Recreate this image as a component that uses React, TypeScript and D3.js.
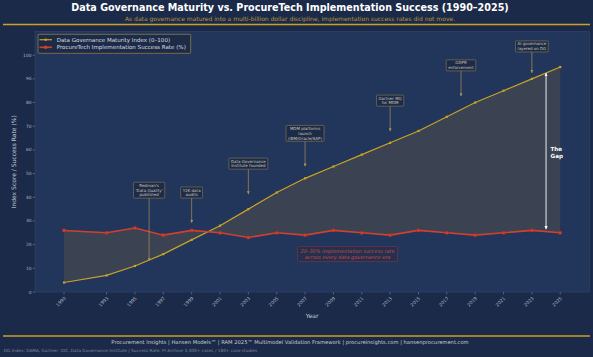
import React from 'react';
import * as d3 from 'd3';

const W = 593;
const H = 357;

const years = [1990, 1993, 1995, 1997, 1999, 2001, 2003, 2005, 2007, 2009, 2011, 2013, 2015, 2017, 2019, 2021, 2023, 2025];
const dgIndex = [4, 7, 11, 16, 22, 28, 35, 42, 48, 53, 58, 63, 68, 74, 80, 85, 90, 95];
const successRate = [26, 25, 27, 24, 26, 25, 23, 25, 24, 26, 25, 24, 26, 25, 24, 25, 26, 25];
const yTicks = [0, 10, 20, 30, 40, 50, 60, 70, 80, 90, 100];

const annoLabels = [
  ["Redman's", "'Data Quality'", 'published'],
  ['Y2K data', 'audits'],
  ['Data Governance', 'Institute founded'],
  ['MDM platforms', 'launch', '(IBM/Oracle/SAP)'],
  ['Gartner MQ', 'for MDM'],
  ['GDPR', 'enforcement'],
  ['AI governance', 'layered on DG'],
];
const annoYears = [1996, 1999, 2003, 2007, 2013, 2018, 2023];
const annoTextValues = [43, 42, 54.2, 67, 80.8, 95.7, 103.7];
const annoTargetValues = [13.2, 29.2, 41.3, 53, 67.9, 82.7, 92.5];

const gapYear = 2024;
const gapTop = 92.5;
const gapBottom = 26.5;

const title = 'Data Governance Maturity vs. ProcureTech Implementation Success  (1990\u20132025)';
const subtitle = 'As data governance matured into a multi-billion dollar discipline, implementation success rates did not move.';
const footer1 = 'Procurement Insights  |  Hansen Models\u2122  |  RAM 2025\u2122 Multimodel Validation Framework  |  procureinsights.com  |  hansenprocurement.com';
const footer2 = 'DG Index: DAMA, Gartner, IDC, Data Governance Institute  |  Success Rate: PI Archive 3,300+ cases / 180+ case studies';
const legendLabels = ['Data Governance Maturity Index (0\u2013100)', 'ProcureTech Implementation Success Rate (%)'];
const callout = ['20\u201330% implementation success rate', 'across every data governance era'];

const FONT = '"DejaVu Sans", "Liberation Sans", sans-serif';
const GOLD = '#c9a227';
const RED = '#d1402f';

let ctx: CanvasRenderingContext2D | null = null;
function measure(t: string, font: string): number {
  if (!ctx) ctx = document.createElement('canvas').getContext('2d');
  if (!ctx) return t.length * 2;
  ctx.font = font;
  return ctx.measureText(t).width;
}

export default function App() {
  const left = 35, right = 589.3, top = 31.5, bottom = 292;
  const x = d3.scaleLinear().domain([1987.95, 2027.05]).range([left, right]);
  const y = d3.scaleLinear().domain([0, 110]).range([bottom, top]);

  const data = years.map((yr, i) => ({ yr, dg: dgIndex[i], sr: successRate[i] }));
  const area = d3.area<any>().x(d => x(d.yr)).y0(d => y(d.sr)).y1(d => y(d.dg));
  const lineDg = d3.line<any>().x(d => x(d.yr)).y(d => y(d.dg));
  const lineSr = d3.line<any>().x(d => x(d.yr)).y(d => y(d.sr));

  const annoFs = 4;
  const annoLh = 4.8;

  return (
    <svg width={W} height={H} style={{ position: 'absolute', left: 0, top: 0, display: 'block', fontFamily: FONT }}>
      <defs>
        <marker id="ahGold" viewBox="0 0 10 10" refX="10" refY="5" markerWidth="3" markerHeight="3" markerUnits="userSpaceOnUse" orient="auto">
          <path d="M0,0 L10,5 L0,10 z" fill="#a8905a" />
        </marker>
        <marker id="ahWhite" viewBox="0 0 10 10" refX="10" refY="5" markerWidth="3.5" markerHeight="3.5" markerUnits="userSpaceOnUse" orient="auto-start-reverse">
          <path d="M0,0 L10,5 L0,10 z" fill="#ffffff" />
        </marker>
      </defs>
      <rect x={0} y={0} width={W} height={H} fill="#1b2a48" />

      {/* title */}
      <text x={290} y={11} textAnchor="middle" fontSize={9.6} fontWeight="bold" fill="#ffffff">{title}</text>
      <text x={290} y={21} textAnchor="middle" fontSize={6} fill="#b8953e">{subtitle}</text>
      <line x1={3} x2={590} y1={24.5} y2={24.5} stroke={GOLD} strokeWidth={1.3} />

      {/* plot area */}
      <rect x={left} y={top} width={right - left} height={bottom - top} fill="#22355a" stroke="#34476b" strokeWidth={0.6} />

      <path d={area(data) || ''} fill="#3b4352" />

      {/* y axis */}
      {yTicks.map(t => (
        <g key={'yt' + t}>
          <line x1={left - 2.5} x2={left} y1={y(t)} y2={y(t)} stroke="#8a93a6" strokeWidth={0.5} />
          <text x={left - 3.5} y={y(t)} dy="0.35em" textAnchor="end" fontSize={4.4} fill="#aab2c2">{t}</text>
        </g>
      ))}
      <text transform={`translate(15.5, ${(top + bottom) / 2}) rotate(-90)`} textAnchor="middle" fontSize={6} fill="#c3cad8">Index Score / Success Rate (%)</text>

      {/* x axis */}
      {years.map(yr => (
        <g key={'xt' + yr}>
          <line x1={x(yr)} x2={x(yr)} y1={bottom} y2={bottom + 2.5} stroke="#8a93a6" strokeWidth={0.5} />
          <text transform={`translate(${x(yr) + 1}, ${bottom + 5.5}) rotate(-45)`} dy="0.35em" textAnchor="end" fontSize={4.6} fill="#aab2c2">{yr}</text>
        </g>
      ))}
      <text x={(left + right) / 2} y={318} textAnchor="middle" fontSize={6} fill="#c3cad8">Year</text>

      {/* lines */}
      <path d={lineDg(data) || ''} fill="none" stroke={GOLD} strokeWidth={1.2} />
      {data.map(d => (
        <rect key={'dm' + d.yr} x={x(d.yr) - 1.1} y={y(d.dg) - 1.1} width={2.2} height={2.2} fill={GOLD} />
      ))}
      <path d={lineSr(data) || ''} fill="none" stroke={RED} strokeWidth={1.6} />
      {data.map(d => (
        <rect key={'sm' + d.yr} x={x(d.yr) - 1.5} y={y(d.sr) - 1.5} width={3} height={3} fill={RED} stroke="#9a2a20" strokeWidth={0.4} />
      ))}

      {/* annotations */}
      {annoLabels.map((lines, i) => {
        const font = `${annoFs}px "DejaVu Sans"`;
        const tw = Math.max(...lines.map(l => measure(l, font)));
        const bw = tw + 4;
        const bh = lines.length * annoLh + 1.5;
        const cx = x(annoYears[i]);
        const cy = y(annoTextValues[i]);
        const by = cy - bh / 2;
        return (
          <g key={'an' + i}>
            <line x1={cx} x2={cx} y1={by + bh} y2={y(annoTargetValues[i])} stroke="#a8905a" strokeWidth={0.7} markerEnd="url(#ahGold)" />
            <rect x={cx - bw / 2} y={by} width={bw} height={bh} fill="#1e2b47" stroke="#8c7d55" strokeWidth={0.6} rx={0.8} />
            {lines.map((l, j) => (
              <text key={j} x={cx} y={by + 0.75 + annoLh * (j + 0.5)} dy="0.35em" textAnchor="middle" fontSize={annoFs} fill="#c9c6b8">{l}</text>
            ))}
          </g>
        );
      })}

      {/* the gap */}
      <line x1={x(gapYear)} x2={x(gapYear)} y1={y(gapTop)} y2={y(gapBottom)} stroke="#ffffff" strokeWidth={0.9} markerStart="url(#ahWhite)" markerEnd="url(#ahWhite)" />
      <text x={x(gapYear) + 4.5} y={y((gapTop + gapBottom) / 2) - 2.5} dy="0.35em" fontSize={5.6} fontWeight="bold" fill="#ffffff">The</text>
      <text x={x(gapYear) + 4.5} y={y((gapTop + gapBottom) / 2) + 4.5} dy="0.35em" fontSize={5.6} fontWeight="bold" fill="#ffffff">Gap</text>

      {/* callout */}
      {(() => {
        const fs = 5;
        const font = `italic ${fs}px "DejaVu Sans"`;
        const tw = Math.max(...callout.map(l => measure(l, font)));
        const bw = tw + 6;
        const bh = 15;
        const cx = x(2010);
        const cy = y(16);
        return (
          <g>
            <rect x={cx - bw / 2} y={cy - bh / 2} width={bw} height={bh} fill="#23304f" stroke="#7a3348" strokeWidth={0.7} rx={0.8} />
            {callout.map((l, j) => (
              <text key={j} x={cx} y={cy - 3.2 + j * 6} dy="0.35em" textAnchor="middle" fontSize={fs} fontStyle="italic" fill="#c9483c">{l}</text>
            ))}
          </g>
        );
      })()}

      {/* legend */}
      <rect x={38} y={34.3} width={152.7} height={19} fill="#1d2b47" stroke="#9c8845" strokeWidth={0.7} rx={1} />
      <line x1={39.5} x2={52} y1={39.7} y2={39.7} stroke={GOLD} strokeWidth={1.2} />
      <rect x={44.6} y={38.6} width={2.2} height={2.2} fill={GOLD} />
      <text x={56.7} y={39.7} dy="0.35em" fontSize={5.55} fill="#d8dce4">{legendLabels[0]}</text>
      <line x1={39.5} x2={52} y1={47.3} y2={47.3} stroke={RED} strokeWidth={1.6} />
      <rect x={44.2} y={45.8} width={3} height={3} fill={RED} />
      <text x={56.7} y={47.3} dy="0.35em" fontSize={5.55} fill="#d8dce4">{legendLabels[1]}</text>

      {/* footer */}
      <line x1={3} x2={590} y1={336} y2={336} stroke={GOLD} strokeWidth={1.3} />
      <text x={290} y={343.5} textAnchor="middle" fontSize={5.2} fill="#c8ccd6">{footer1}</text>
      <text x={3.8} y={352} fontSize={4.25} fill="#7f889c">{footer2}</text>
    </svg>
  );
}
